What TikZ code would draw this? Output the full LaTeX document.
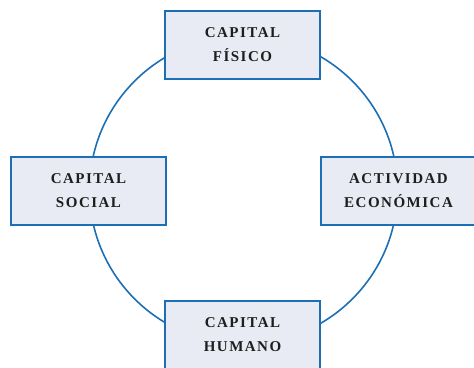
\documentclass[tikz,border=0pt]{standalone}
\usepackage{fontspec}
\setmainfont{Liberation Serif}[LetterSpace=10]
\definecolor{bord}{HTML}{1C6FB5}
\definecolor{boxfill}{HTML}{E8EBF3}
\definecolor{txt}{HTML}{1E1E1E}
\begin{document}
\begin{tikzpicture}[x=1pt,y=1pt,
  box/.style={draw=bord,line width=2.4pt,fill=boxfill,minimum width=155pt,minimum height=68pt,
    align=center,font=\fontsize{15}{24}\selectfont\bfseries,text=txt,inner sep=0pt}]
\useasboundingbox (0,0) rectangle (474,367);
\clip (0,0) rectangle (474,367);
\coordinate (c) at (243.5,177);
\draw[bord,line width=1.6pt] (c) circle (154);
\node[box] (fis) at (242.5,322) {CAPITAL\\FÍSICO};
\node[box] (soc) at (88.5,176) {CAPITAL\\SOCIAL};
\node[box] (eco) at (398.5,176) {ACTIVIDAD\\ECONÓMICA};
\node[box] (hum) at (242.5,32) {CAPITAL\\HUMANO};
\end{tikzpicture}
\end{document}
